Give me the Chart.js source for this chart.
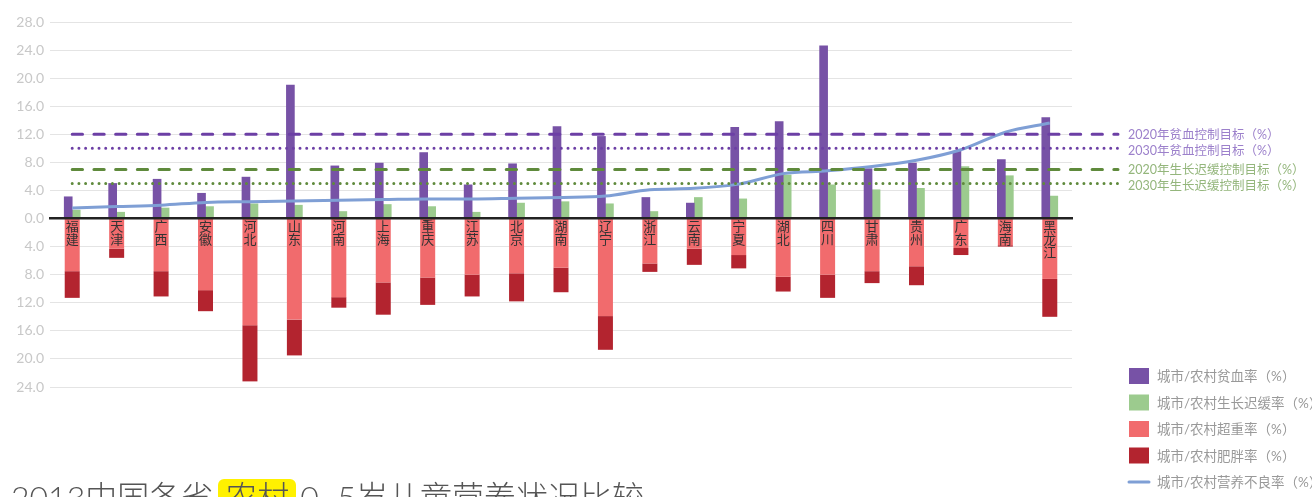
<!DOCTYPE html>
<html lang="zh-CN">
<head>
<meta charset="utf-8">
<title>2013中国各省农村0~5岁儿童营养状况比较</title>
<script src="https://cdn.jsdelivr.net/npm/chart.js@4.4.1/dist/chart.umd.min.js"></script>
<style>
  html, body { margin: 0; padding: 0; background: #fff; }
  body { width: 1312px; height: 497px; overflow: hidden; position: relative; }
  #chart { position: absolute; left: 0; top: 0; }
  #title {
    position: absolute; left: 11px; top: 479px; white-space: nowrap;
    font-family: Lato, "Noto Sans CJK SC", sans-serif; font-weight: 300;
    font-size: 32px; line-height: 36px; color: #555;
  }
  #title .hl {
    display: inline-block; line-height: 36px; padding: 0 7px; margin: 0 4px 0 5px;
    background: #fff100; border-radius: 6px;
  }
</style>
</head>
<body>
<canvas id="chart" width="1312" height="497"></canvas>
<div id="title">2013中国各省<span class="hl">农村</span>0~5岁儿童营养状况比较</div>
<script>
// Provinces, ordered by rural malnutrition rate
const provinces = ['福建','天津','广西','安徽','河北','山东','河南','上海','重庆','江苏','北京','湖南',
                   '辽宁','浙江','云南','宁夏','湖北','四川','甘肃','贵州','广东','海南','黑龙江'];

// Rates in percent
const anemiaRate       = [3.1, 5.0, 5.6, 3.6, 5.9, 19.0, 7.5, 7.9, 9.4, 4.8, 7.8, 13.1, 11.7, 3.0, 2.2, 13.0, 13.8, 24.6, 7.1, 7.9, 9.6, 8.4, 14.4];
const stuntingRate     = [1.2, 0.9, 1.5, 1.7, 2.1, 1.9, 1.0, 2.0, 1.7, 0.9, 2.2, 2.4, 2.1, 1.0, 3.0, 2.8, 6.2, 4.8, 4.1, 4.3, 7.4, 6.1, 3.2];
const overweightRate   = [7.5, 4.3, 7.5, 10.2, 15.2, 14.4, 11.2, 9.1, 8.4, 8.0, 7.8, 7.0, 13.9, 6.4, 4.3, 5.2, 8.3, 8.0, 7.5, 6.8, 4.2, 3.8, 8.6];
const obesityRate      = [3.8, 1.3, 3.6, 3.0, 8.0, 5.1, 1.5, 4.6, 3.9, 3.1, 4.0, 3.5, 4.8, 1.2, 2.3, 1.9, 2.1, 3.3, 1.7, 2.7, 1.0, 0.2, 5.4];
const malnutritionRate = [1.5, 1.7, 1.9, 2.3, 2.4, 2.5, 2.6, 2.7, 2.8, 2.8, 2.9, 3.0, 3.2, 4.1, 4.3, 4.9, 6.4, 6.8, 7.4, 8.3, 9.8, 12.3, 13.6];

// National control targets (percent)
const targetNames  = ['2020年贫血控制目标（%）', '2030年贫血控制目标（%）', '2020年生长迟缓控制目标（%）', '2030年生长迟缓控制目标（%）'];
const targetValues = [12, 10, 7, 5];

// Value axis range and step
const axisMin = -24, axisMax = 28, axisStep = 4;

const FONT = 'Lato, "Noto Sans CJK SC", sans-serif';
const PURPLE = '#7752a6', GREEN = '#9ccb8e', RED = '#f16b6d', DARKRED = '#b3242f', BLUE = '#7f9fd5';

// Target line styles: purple / green, dashed (2020) / dotted (2030)
const targetStyles = [
  { color: '#6c3fa5', text: '#9c80cb', dash: [10.3, 11.4] },
  { color: '#6c3fa5', text: '#9c80cb', dash: [0, 6.7] },
  { color: '#5f8a3c', text: '#94b67c', dash: [10.3, 11.4] },
  { color: '#5f8a3c', text: '#94b67c', dash: [0, 6.7] }
];

const targetLinesPlugin = {
  id: 'targetLines',
  afterDatasetsDraw(chart) {
    const { ctx, chartArea, scales: { x, y } } = chart;
    const x0 = x.getPixelForValue(0);
    const x1 = chartArea.right + 46;
    // label positions start at the line and are spread apart where they would overlap
    const ys = targetValues.map(v => y.getPixelForValue(v));
    const ly = ys.slice();
    const gap = 16;
    for (let it = 0; it < 20; it++) {
      for (let i = 0; i < ly.length - 1; i++) {
        const d = ly[i + 1] - ly[i];
        if (d < gap) { const s = (gap - d) / 2; ly[i] -= s; ly[i + 1] += s; }
      }
    }
    ctx.save();
    targetValues.forEach((v, i) => {
      const st = targetStyles[i];
      ctx.beginPath();
      ctx.lineWidth = 3;
      ctx.lineCap = 'round';
      ctx.strokeStyle = st.color;
      ctx.setLineDash(st.dash);
      ctx.moveTo(x0, ys[i]);
      ctx.lineTo(x1, ys[i]);
      ctx.stroke();
    });
    ctx.setLineDash([]);
    ctx.font = '12.5px ' + FONT;
    ctx.textBaseline = 'middle';
    ctx.textAlign = 'left';
    targetNames.forEach((t, i) => {
      ctx.fillStyle = targetStyles[i].text;
      ctx.fillText(t, chartArea.right + 56, ly[i] + 1.5);
    });
    ctx.restore();
  }
};

const sideLegendPlugin = {
  id: 'sideLegend',
  afterDraw(chart) {
    const { ctx, chartArea } = chart;
    const order = [1, 2, 3, 4, 0];
    const bx = chartArea.right + 57;
    const top = chartArea.bottom - 19;
    const step = 26.5;
    ctx.save();
    ctx.font = '13.5px ' + FONT;
    ctx.textBaseline = 'middle';
    ctx.textAlign = 'left';
    order.forEach((di, row) => {
      const ds = chart.data.datasets[di];
      const cy = top + row * step + 8;
      if (ds.type === 'line') {
        ctx.strokeStyle = ds.borderColor;
        ctx.lineWidth = 3;
        ctx.lineCap = 'round';
        ctx.beginPath();
        ctx.moveTo(bx, cy);
        ctx.lineTo(bx + 20, cy);
        ctx.stroke();
      } else {
        ctx.fillStyle = ds.backgroundColor;
        ctx.fillRect(bx, cy - 8, 20, 16);
      }
      ctx.fillStyle = '#999';
      ctx.fillText(ds.label, bx + 28, cy + 1);
    });
    ctx.restore();
  }
};

new Chart(document.getElementById('chart'), {
  type: 'bar',
  data: {
    labels: provinces,
    datasets: [
      { type: 'line', label: '城市/农村营养不良率（%）', data: malnutritionRate,
        borderColor: BLUE, borderWidth: 3, pointRadius: 0, cubicInterpolationMode: 'monotone', stack: 'malnutrition', order: -1 },
      { label: '城市/农村贫血率（%）', data: anemiaRate,
        backgroundColor: PURPLE, barThickness: 8, stack: 'anemia' },
      { label: '城市/农村生长迟缓率（%）', data: stuntingRate,
        backgroundColor: GREEN, barThickness: 8, stack: 'stunting' },
      // overweight and obesity share one centred stack below the axis
      { label: '城市/农村超重率（%）', data: overweightRate.map(v => -v),
        backgroundColor: RED, grouped: false, maxBarThickness: 15, stack: 'weight' },
      { label: '城市/农村肥胖率（%）', data: obesityRate.map(v => -v),
        backgroundColor: DARKRED, grouped: false, maxBarThickness: 15, stack: 'weight' }
    ]
  },
  options: {
    responsive: false,
    animation: false,
    events: [],
    layout: { padding: { left: 0, top: 22, right: 240, bottom: 110 } },
    plugins: { legend: { display: false }, tooltip: { enabled: false } },
    scales: {
      x: {
        type: 'category',
        position: { y: 0 },
        offset: true,
        z: 1,
        grid: { display: false, drawTicks: false },
        border: { display: true, color: '#222', width: 2.5, z: 1 },
        ticks: {
          z: 1,
          autoSkip: false,
          maxRotation: 0,
          padding: 2,
          color: '#333',
          font: { family: FONT, size: 13, lineHeight: 1.0 },
          callback: (v, i) => provinces[i].split('')
        }
      },
      y: {
        stacked: true,
        min: axisMin,
        max: axisMax,
        afterFit: s => { s.width = 50; },
        grid: { color: '#e4e4e4', lineWidth: 1, drawTicks: false },
        border: { display: false },
        ticks: {
          stepSize: axisStep,
          padding: 6,
          color: '#c8c8c8',
          font: { family: FONT, size: 14 },
          callback: v => Math.abs(v).toFixed(1)
        }
      }
    }
  },
  plugins: [targetLinesPlugin, sideLegendPlugin]
});
</script>
</body>
</html>
